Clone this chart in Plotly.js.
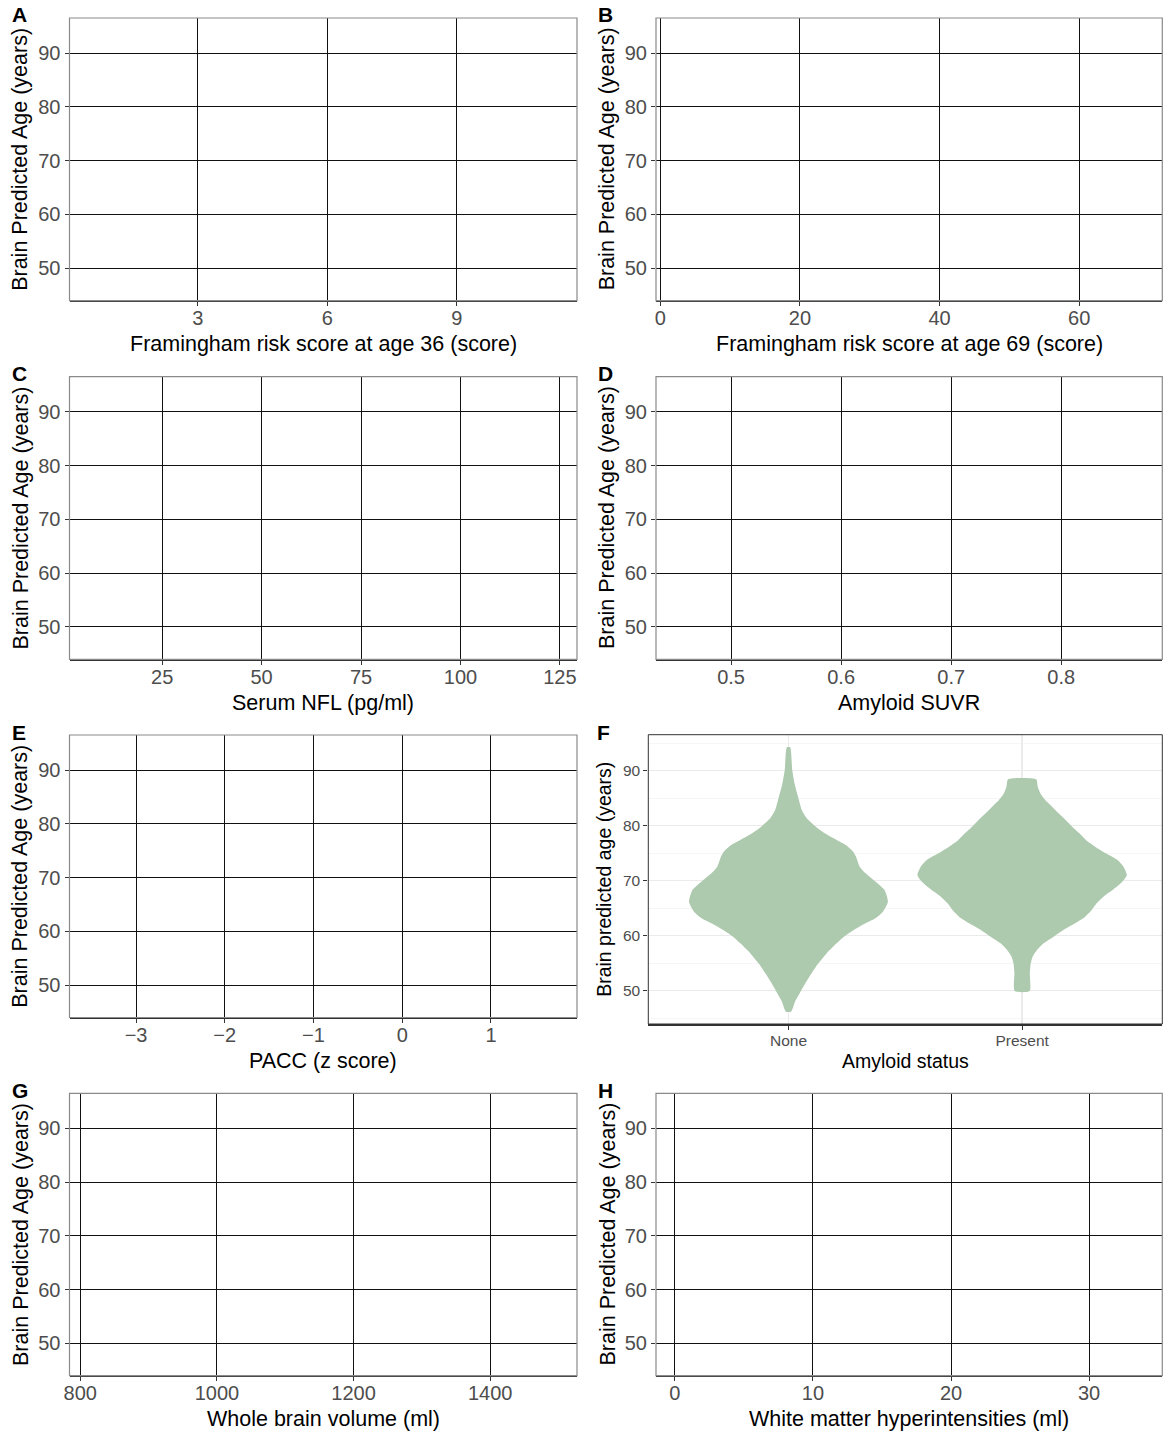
<!DOCTYPE html>
<html>
<head>
<meta charset="utf-8">
<script src="https://cdn.plot.ly/plotly-3.0.1.min.js"></script>
<style>html,body{margin:0;padding:0;background:#fff;}#chart{width:1163px;height:1432px;}</style>
</head>
<body>
<div id="chart"></div>
<script>
// ---------------- data ----------------
const panelLetters = ['A','B','C','D','E','F','G','H'];
const yTitle = 'Brain Predicted Age (years)';
const yTickVals = [50, 60, 70, 80, 90];
const yRange = [43.95, 96.55];

const xTitleA = 'Framingham risk score at age 36 (score)';
const xTicksA = [3, 6, 9];
const xRangeA = [0.03, 11.78];

const xTitleB = 'Framingham risk score at age 69 (score)';
const xTicksB = [0, 20, 40, 60];
const xRangeB = [-0.62, 71.9];

const xTitleC = 'Serum NFL (pg/ml)';
const xTicksC = [25, 50, 75, 100, 125];
const xRangeC = [1.7, 129.3];

const xTitleD = 'Amyloid SUVR';
const xTicksD = [0.5, 0.6, 0.7, 0.8];
const xRangeD = [0.4318, 0.8918];

const xTitleE = 'PACC (z score)';
const xTicksE = [-3, -2, -1, 0, 1];
const xTickTextE = ['\u22123', '\u22122', '\u22121', '0', '1'];
const xRangeE = [-3.75, 1.97];

const xTitleF = 'Amyloid status';
const yTitleF = 'Brain predicted age (years)';
const amyloidStatus = ['None', 'Present'];
const xRangeF = [-0.6, 1.6];
// violin density profiles (age in years, half width in category units)
const noneAge = [46.19, 48.0, 49.52, 51.34, 53.16, 54.98, 56.79, 58.61, 59.95, 61.04, 62.25, 63.16, 64.37, 66.19,
                 68.31, 69.95, 71.34, 72.55, 74.37, 75.28, 76.49, 77.4, 78.61, 79.82, 81.34, 82.85, 85.28, 87.7, 90.13, 94.25];
const noneHalfWidth = [0.011, 0.028, 0.048, 0.072, 0.099, 0.128, 0.163, 0.206, 0.241, 0.28, 0.33, 0.372, 0.404, 0.4255,
                       0.411, 0.369, 0.33, 0.305, 0.289, 0.277, 0.245, 0.206, 0.156, 0.117, 0.078, 0.057, 0.041, 0.026, 0.016, 0.007];
const presentAge = [49.95, 53.16, 54.98, 56.19, 57.4, 58.61, 59.82, 61.04, 62.25, 63.46, 64.67, 65.89, 67.1, 68.31, 69.82,
                    71.04, 72.55, 73.76, 74.98, 76.19, 77.4, 78.61, 79.82, 81.04, 82.25, 83.46, 84.67, 85.89, 87.1, 88.43];
const presentHalfWidth = [0.032, 0.033, 0.037, 0.045, 0.064, 0.092, 0.135, 0.177, 0.227, 0.27, 0.298, 0.319, 0.348, 0.387, 0.429,
                          0.448, 0.434, 0.408, 0.358, 0.312, 0.273, 0.245, 0.214, 0.186, 0.156, 0.128, 0.099, 0.078, 0.067, 0.06];

const xTitleG = 'Whole brain volume (ml)';
const xTicksG = [800, 1000, 1200, 1400];
const xRangeG = [784.3, 1527];

const xTitleH = 'White matter hyperintensities (ml)';
const xTicksH = [0, 10, 20, 30];
const xRangeH = [-1.36, 35.3];

// ---------------- layout helpers ----------------
const W = 1163, H = 1432;
const FONT = 'Liberation Sans, Arial, sans-serif';
const px = p => p / W;
const py = p => 1 - p / H;

const colL = [69.5, 577], colR = [656, 1162.3], colF = [648.3, 1162.3];
const rows = [[18, 300.7], [376.7, 659.3], [735, 1017.5], [1093.3, 1375.7]];
const rowF = [734.7, 1024];

const panels = [
  {id: 1, col: colL, row: rows[0], title: xTitleA, ticks: xTicksA, range: xRangeA},
  {id: 2, col: colR, row: rows[0], title: xTitleB, ticks: xTicksB, range: xRangeB},
  {id: 3, col: colL, row: rows[1], title: xTitleC, ticks: xTicksC, range: xRangeC},
  {id: 4, col: colR, row: rows[1], title: xTitleD, ticks: xTicksD, range: xRangeD},
  {id: 5, col: colL, row: rows[2], title: xTitleE, ticks: xTicksE, text: xTickTextE, range: xRangeE},
  {id: 7, col: colL, row: rows[3], title: xTitleG, ticks: xTicksG, range: xRangeG},
  {id: 8, col: colR, row: rows[3], title: xTitleH, ticks: xTicksH, range: xRangeH}
];

const layout = {
  width: W, height: H,
  margin: {l: 0, r: 0, t: 0, b: 0},
  paper_bgcolor: '#ffffff', plot_bgcolor: '#ffffff',
  showlegend: false,
  font: {family: FONT, color: '#000'},
  annotations: [], shapes: []
};
const traces = [];

function sfx(id) { return id === 1 ? '' : String(id); }

panels.forEach(p => {
  const s = sfx(p.id);
  layout['xaxis' + s] = {
    domain: [px(p.col[0]), px(p.col[1])],
    anchor: 'y' + s,
    range: p.range,
    tickmode: 'array', tickvals: p.ticks, ticktext: p.text || p.ticks.map(String),
    showgrid: true, gridcolor: '#111111', gridwidth: 1,
    zeroline: false,
    showline: true, linecolor: '#333333', linewidth: 1.6,
    ticks: 'outside', ticklen: 4, tickwidth: 1, tickcolor: '#333333',
    ticklabelstandoff: -5,
    tickfont: {family: FONT, size: 20, color: '#4D4D4D'},
    fixedrange: true
  };
  layout['yaxis' + s] = {
    domain: [py(p.row[1]), py(p.row[0])],
    anchor: 'x' + s,
    range: yRange,
    tickmode: 'array', tickvals: yTickVals, ticktext: yTickVals.map(String),
    showgrid: true, gridcolor: '#111111', gridwidth: 1,
    zeroline: false, showline: false,
    ticks: 'outside', ticklen: 4, tickwidth: 1, tickcolor: '#333333',
    tickfont: {family: FONT, size: 20, color: '#4D4D4D'},
    fixedrange: true
  };
  traces.push({type: 'scatter', mode: 'markers', x: [], y: [], xaxis: 'x' + s, yaxis: 'y' + s, hoverinfo: 'skip'});
  layout.shapes.push({type: 'rect', xref: 'x' + s + ' domain', yref: 'y' + s + ' domain', x0: 0, x1: 1, y0: 0, y1: 1,
    line: {color: '#8a8a8a', width: 1.2}, layer: 'above'});
  // x title
  layout.annotations.push({xref: 'paper', yref: 'paper', x: px((p.col[0] + p.col[1]) / 2), y: py(p.row[1] + 43.5),
    text: p.title, showarrow: false, xanchor: 'center', yanchor: 'middle', font: {family: FONT, size: 21.5, color: '#000'}});
  // y title
  layout.annotations.push({xref: 'paper', yref: 'paper', x: px(p.col[0] - 49), y: py((p.row[0] + p.row[1]) / 2),
    text: yTitle, textangle: -90, showarrow: false, xanchor: 'center', yanchor: 'middle', font: {family: FONT, size: 21.5, color: '#000'}});
});

// panel F (violin)
layout.xaxis6 = {
  domain: [px(colF[0]), px(colF[1])], anchor: 'y6', range: xRangeF,
  tickmode: 'array', tickvals: amyloidStatus.map((_, i) => i), ticktext: amyloidStatus,
  showgrid: true, gridcolor: '#EBEBEB', gridwidth: 1.3, zeroline: false,
  showline: true, linecolor: '#333333', linewidth: 1.6,
  ticks: 'outside', ticklen: 4, tickwidth: 1, tickcolor: '#333333',
  ticklabelstandoff: -2,
  tickfont: {family: FONT, size: 15.5, color: '#4D4D4D'}, fixedrange: true
};
layout.yaxis6 = {
  domain: [py(rowF[1]), py(rowF[0])], anchor: 'x6', range: yRange,
  tickmode: 'array', tickvals: yTickVals, ticktext: yTickVals.map(String),
  showgrid: true, gridcolor: '#EBEBEB', gridwidth: 1.3, zeroline: false, showline: false,
  minor: {tick0: 45, dtick: 10, showgrid: true, gridcolor: '#F4F4F4', gridwidth: 0.8, ticks: ''},
  ticks: 'outside', ticklen: 4, tickwidth: 1, tickcolor: '#333333',
  tickfont: {family: FONT, size: 15.5, color: '#4D4D4D'}, fixedrange: true
};
layout.shapes.push({type: 'rect', xref: 'x6 domain', yref: 'y6 domain', x0: 0, x1: 1, y0: 0, y1: 1,
  line: {color: '#333333', width: 1}, layer: 'above'});

function violinTrace(center, ages, halfW) {
  const xs = [], ys = [];
  for (let i = 0; i < ages.length; i++) { xs.push(center + halfW[i]); ys.push(ages[i]); }
  for (let i = ages.length - 1; i >= 0; i--) { xs.push(center - halfW[i]); ys.push(ages[i]); }
  xs.push(xs[0]); ys.push(ys[0]);
  return {type: 'scatter', mode: 'lines', x: xs, y: ys, fill: 'toself', fillcolor: '#ADC9AE',
    line: {width: 0, color: '#ADC9AE', shape: 'spline', smoothing: 0.6}, xaxis: 'x6', yaxis: 'y6', hoverinfo: 'skip'};
}
traces.push(violinTrace(0, noneAge, noneHalfWidth));
traces.push(violinTrace(1, presentAge, presentHalfWidth));

layout.annotations.push({xref: 'paper', yref: 'paper', x: px((colF[0] + colF[1]) / 2), y: py(1061),
  text: xTitleF, showarrow: false, xanchor: 'center', yanchor: 'middle', font: {family: FONT, size: 19.5, color: '#000'}});
layout.annotations.push({xref: 'paper', yref: 'paper', x: px(604.5), y: py((rowF[0] + rowF[1]) / 2),
  text: yTitleF, textangle: -90, showarrow: false, xanchor: 'center', yanchor: 'middle', font: {family: FONT, size: 19.5, color: '#000'}});

// panel letters
const letterPos = [[11, rows[0][0]], [597, rows[0][0]], [11, rows[1][0]], [597, rows[1][0]],
                   [11, rows[2][0]], [596, rows[2][0]], [11, rows[3][0]], [597, rows[3][0]]];
panelLetters.forEach((L, i) => {
  layout.annotations.push({xref: 'paper', yref: 'paper', x: px(letterPos[i][0]), y: py(letterPos[i][1] - 3),
    text: '<b>' + L + '</b>', showarrow: false, xanchor: 'left', yanchor: 'middle', xshift: -1,
    font: {family: FONT, size: 21, color: '#000'}});
});

Plotly.newPlot('chart', traces, layout, {staticPlot: true, displayModeBar: false});
</script>
</body>
</html>
